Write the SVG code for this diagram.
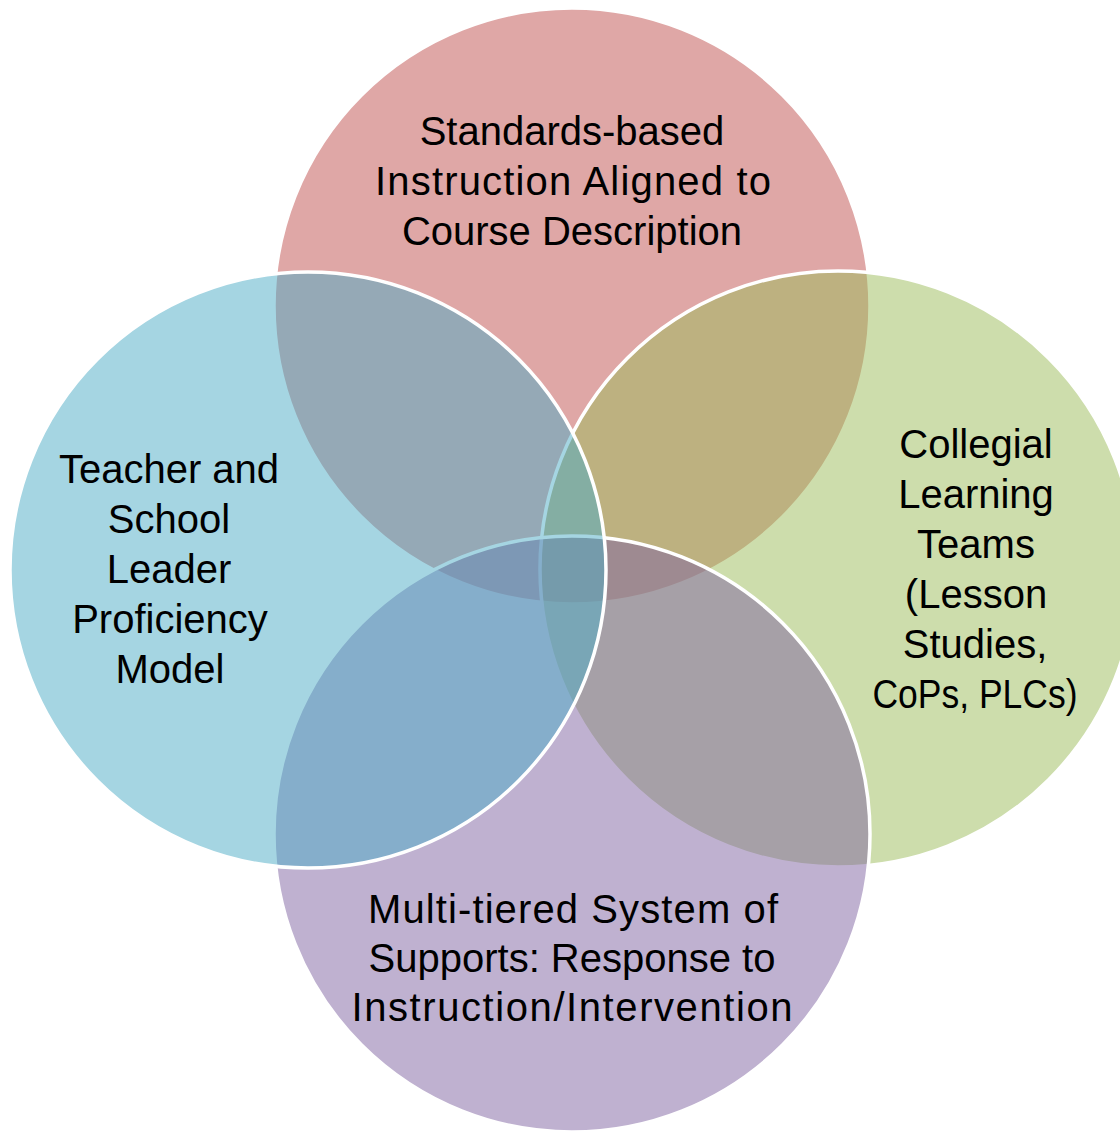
<svg xmlns="http://www.w3.org/2000/svg" width="1120" height="1131" viewBox="0 0 1120 1131">
<style>
.c{stroke:#fff;stroke-width:3.5}
.t{font-family:"Liberation Sans",Arial,sans-serif;font-size:40px;fill:#000;text-anchor:middle}
</style>
<rect width="1120" height="1131" fill="#fff"/>
<g id="node-top">
<circle class="c" cx="572" cy="306" r="298" fill="#C0504D" fill-opacity="0.5"/>
</g>
<g id="node-right">
<circle class="c" cx="838" cy="569" r="298" fill="#9BBB59" fill-opacity="0.5"/>
</g>
<g id="node-bottom">
<circle class="c" cx="572" cy="834" r="298" fill="#8064A2" fill-opacity="0.5"/>
</g>
<g id="node-left">
<circle class="c" cx="308" cy="570" r="298" fill="#4BACC6" fill-opacity="0.5"/>
</g>
<g id="labels">
<text class="t" x="572" y="145">Standards-based</text>
<text class="t" x="573" y="195" textLength="396" lengthAdjust="spacing">Instruction Aligned to</text>
<text class="t" x="572" y="245">Course Description</text>
<text class="t" x="976" y="458">Collegial</text>
<text class="t" x="976" y="508">Learning</text>
<text class="t" x="976" y="558">Teams</text>
<text class="t" x="976" y="608">(Lesson</text>
<text class="t" x="975" y="658">Studies,</text>
<text class="t" x="975" y="708" textLength="205" lengthAdjust="spacingAndGlyphs">CoPs, PLCs)</text>
<text class="t" x="169" y="483">Teacher and</text>
<text class="t" x="169" y="533">School</text>
<text class="t" x="169" y="583">Leader</text>
<text class="t" x="170" y="633">Proficiency</text>
<text class="t" x="170" y="683">Model</text>
<text class="t" x="573" y="923" textLength="410" lengthAdjust="spacing">Multi-tiered System of</text>
<text class="t" x="572" y="972">Supports: Response to</text>
<text class="t" x="572" y="1021" textLength="441" lengthAdjust="spacing">Instruction/Intervention</text>
</g>
<g id="connectors"/>
</svg>
